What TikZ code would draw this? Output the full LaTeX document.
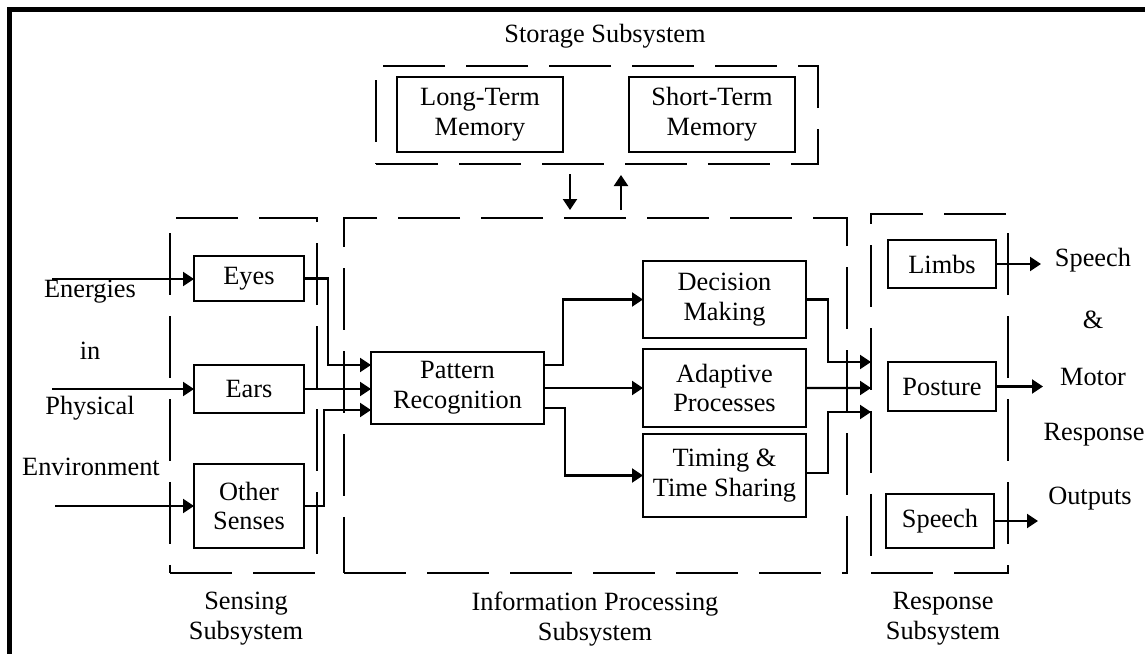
\documentclass[tikz,border=0pt]{standalone}
\usepackage{fontspec}
\setmainfont{Liberation Serif}
\usetikzlibrary{arrows.meta,calc}

\begin{document}
\begin{tikzpicture}[x=0.02cm,y=-0.02cm]
	\tikzstyle{every node}=[font=\fontsize{15pt}{17pt}\selectfont, align=center, inner sep=0pt, outer sep=0pt]
	\tikzstyle{block}=[rectangle, draw, line width=1.1pt]
	\tikzstyle{subsys}=[rectangle, draw, line width=1.6pt, dash pattern=on 1.24cm off 0.42cm]
	\tikzstyle{link}=[line width=1.2pt, -{Triangle[length=0.22cm,width=0.28cm]}]
	\useasboundingbox (0,0) rectangle (1145,653);
	\draw[line width=0.1cm] (9.5,680) -- (9.5,9.5) -- (1170,9.5);

	% storage
	\node[subsys, minimum width=8.84cm, minimum height=1.96cm] (storage) at (597,115) {};
	\node (storagelbl) at (605,36) {Storage Subsystem};
	\node[block, minimum width=3.32cm, minimum height=1.5cm] (ltm) at (480,114.5) {Long-Term\\Memory};
	\node[block, minimum width=3.32cm, minimum height=1.5cm] (stm) at (712,114.5) {Short-Term\\Memory};

	% subsystems
	\node[subsys, minimum width=2.94cm, minimum height=7.1cm] (sensing) at (243.5,395.5) {};
	\node[subsys, minimum width=10.06cm, minimum height=7.1cm] (info) at (595.5,395.5) {};
	\node[subsys, minimum width=2.74cm, minimum height=7.18cm] (resp) at (939.5,393.5) {};
	\node (sensinglbl) at (246,619) {Sensing\\Subsystem};
	\node (infolbl) at (595,619) {Information Processing\\Subsystem};
	\node (resplbl) at (943,619) {Response\\Subsystem};

	% sensing
	\node[block, minimum width=2.2cm, minimum height=0.9cm] (eyes) at (249,278.5) {Eyes};
	\node[block, minimum width=2.2cm, minimum height=0.96cm] (ears) at (249,389) {Ears};
	\node[block, minimum width=2.2cm, minimum height=1.68cm] (other) at (249,506) {Other\\Senses};
	\node (energies) at (90,292) {Energies};
	\node (inlbl) at (90,351) {in};
	\node (physical) at (90,408) {Physical};
	\node (environment) at (91,467) {Environment};

	% processing
	\node[block, minimum width=3.46cm, minimum height=1.44cm] (pattern) at (457.5,388) {Pattern\\Recognition};
	\node[block, minimum width=3.26cm, minimum height=1.54cm] (decision) at (724.5,299.5) {Decision\\Making};
	\node[block, minimum width=3.26cm, minimum height=1.56cm] (adaptive) at (724.5,388) {Adaptive\\Processes};
	\node[block, minimum width=3.26cm, minimum height=1.66cm] (timing) at (724.5,475.5) {Timing \&\\Time Sharing};

	% response
	\node[block, minimum width=2.16cm, minimum height=0.96cm] (limbs) at (942,264) {Limbs};
	\node[block, minimum width=2.16cm, minimum height=0.98cm] (posture) at (942,386.5) {Posture};
	\node[block, minimum width=2.16cm, minimum height=1.08cm] (speech) at (940,521) {Speech};
	\node (speechlbl) at (1093,260) {Speech};
	\node (amplbl) at (1093,320) {\&};
	\node (motorlbl) at (1093,377) {Motor};
	\node (responselbl) at (1094,435) {Response};
	\node (outputslbl) at (1090,499) {Outputs};

	% free ends
	\coordinate (in1) at (52,279);
	\coordinate (in2) at (52,389);
	\coordinate (in3) at (55,506);
	\coordinate (out1) at (1041,264);
	\coordinate (out2) at (1043,386.5);
	\coordinate (out3) at (1038,521);
	\coordinate (dntop) at (570,174);
	\coordinate (dnbot) at (570,210);
	\coordinate (upbot) at (621,210);
	\coordinate (uptop) at (621,175);

	% connectors
	\draw[link] (dntop) -- (dnbot);
	\draw[link] (upbot) -- (uptop);
	\draw[link] (in1) -- (in1 -| eyes.west);
	\draw[link] (in2) -- (in2 -| ears.west);
	\draw[link] (in3) -- (in3 -| other.west);
	\draw[link] (eyes.east) -- ++(24,0) |- ([yshift=0.46cm]pattern.west);
	\draw[link] (ears.east) -- (ears.east -| pattern.west);
	\draw[link] (other.east) -- ++(20,0) |- ([yshift=-0.44cm]pattern.west);
	\draw[link] ([yshift=0.46cm]pattern.east) -- ++(19,0) |- (decision.west);
	\draw[link] (pattern.east) -- (adaptive.west);
	\draw[link] ([yshift=-0.4cm]pattern.east) -- ++(21,0) |- (timing.west);
	\draw[link] (decision.east) -- ++(22,0) |- ([yshift=0.63cm]resp.west);
	\draw[link] (adaptive.east) -- ([yshift=0.11cm]resp.west);
	\draw[link] ([yshift=0.05cm]timing.east) -- ++(22,0) |- ([yshift=-0.37cm]resp.west);
	\draw[link] (limbs.east) -- (out1);
	\draw[link] (posture.east) -- (out2);
	\draw[link] (speech.east) -- (out3);
\end{tikzpicture}
\end{document}
